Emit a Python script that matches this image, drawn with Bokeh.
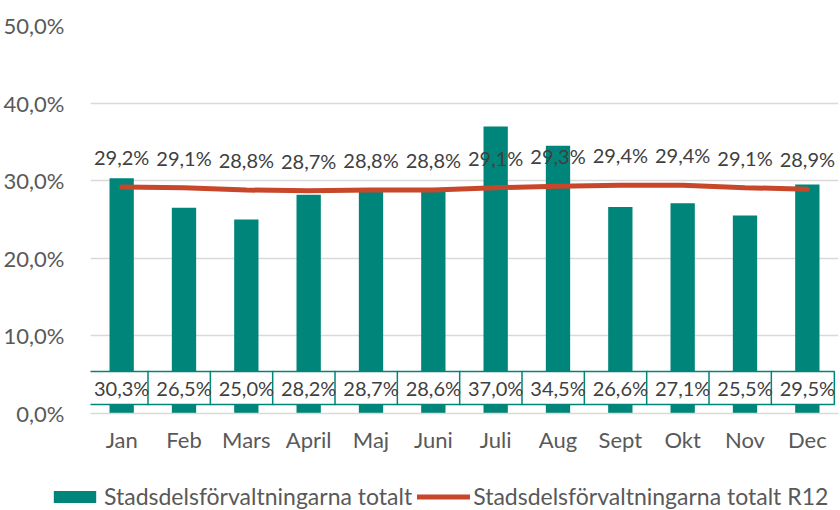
from bokeh.plotting import figure
from bokeh.layouts import column
from bokeh.models import (ColumnDataSource, FactorRange, Range1d, FixedTicker,
                          Legend, LegendItem)
from bokeh.transform import dodge
from bokeh.core.properties import value
from bokeh.embed import file_html
from bokeh.resources import INLINE

months = ["Jan", "Feb", "Mars", "April", "Maj", "Juni", "Juli", "Aug", "Sept", "Okt", "Nov", "Dec"]
totalt = [30.3, 26.5, 25.0, 28.2, 28.7, 28.6, 37.0, 34.5, 26.6, 27.1, 25.5, 29.5]
r12 = [29.2, 29.1, 28.8, 28.7, 28.8, 28.8, 29.1, 29.3, 29.4, 29.4, 29.1, 28.9]
y_ticks = [0, 10, 20, 30, 40, 50]
series_names = ["Stadsdelsförvaltningarna totalt", "Stadsdelsförvaltningarna totalt R12"]

def pct(v):
    return f"{v:.1f}".replace(".", ",") + "%"

TEAL = "#00857A"
RED = "#C8472B"
FONT = "Lato"
FS = "22px"
FS_DATA = "20px"

src = ColumnDataSource(dict(
    m=months, t=totalt, r=r12,
    tl=[pct(v) for v in totalt],
    rl=[pct(v) for v in r12],
    base=[3.3] * len(months),
))

p = figure(width=840, height=470, x_range=FactorRange(factors=months),
           y_range=Range1d(0, 50), output_backend="svg", toolbar_location=None,
           min_border_left=90, min_border_right=2, min_border_top=25,
           min_border_bottom=57)
p.frame_align = False
p.outline_line_color = None
p.background_fill_color = "white"

bars = p.vbar(x="m", top="t", width=0.39, source=src, fill_color=TEAL, line_color=None)
line = p.line(x="m", y="r", source=src, line_color=RED, line_width=5, line_cap="round")

p.text(x="m", y="r", text="rl", source=src, y_offset=-30, text_align="center",
       text_baseline="middle", text_font=value(FONT), text_font_size=FS_DATA,
       text_color="#404040")

p.rect(x=dodge("m", -0.072, range=p.x_range), y="base", width=63, height=33,
       width_units="screen", height_units="screen", source=src,
       fill_color="white", line_color=TEAL, line_width=1.5)
p.text(x="m", y="base", text="tl", source=src, text_align="center",
       text_baseline="middle", text_font=value(FONT), text_font_size=FS_DATA,
       text_color="#404040")

p.yaxis.ticker = FixedTicker(ticks=y_ticks)
p.yaxis.major_label_overrides = {v: pct(v) for v in y_ticks}
p.yaxis.axis_line_color = None
p.yaxis.major_tick_line_color = None
p.yaxis.minor_tick_line_color = None
p.yaxis.major_label_standoff = 20
p.yaxis.major_label_text_font = FONT
p.yaxis.major_label_text_font_size = FS
p.yaxis.major_label_text_color = "#595959"

p.xaxis.axis_line_color = "#D9D9D9"
p.xaxis.axis_line_width = 1.5
p.xaxis.major_tick_line_color = None
p.xaxis.minor_tick_line_color = None
p.xaxis.major_label_standoff = 6
p.xaxis.major_label_text_font = FONT
p.xaxis.major_label_text_font_size = FS
p.xaxis.major_label_text_color = "#595959"

p.xgrid.grid_line_color = None
p.ygrid.grid_line_color = "#D9D9D9"
p.ygrid.grid_line_width = 1.5

# legend strip below the chart (its glyphs use the same data, kept out of view)
pl = figure(width=840, height=40, output_backend="svg", toolbar_location=None,
            x_range=FactorRange(factors=months), y_range=Range1d(60, 70),
            x_axis_location=None, y_axis_location=None,
            min_border_left=0, min_border_right=0, min_border_top=0, min_border_bottom=0)
pl.frame_align = False
pl.outline_line_color = None
pl.xgrid.grid_line_color = None
pl.ygrid.grid_line_color = None
lb = pl.vbar(x="m", top="t", width=0.39, source=src, fill_color=TEAL, line_color=None)
ll = pl.line(x="m", y="r", source=src, line_color=RED, line_width=5, line_cap="round")

legend = Legend(items=[
    LegendItem(label=series_names[0], renderers=[lb]),
    LegendItem(label=series_names[1], renderers=[ll]),
], orientation="horizontal", location=(48, 0), padding=0, margin=0, spacing=5,
    label_standoff=3, glyph_width=53, glyph_height=15,
    label_text_font=FONT, label_text_font_size="23px", label_text_color="#595959",
    border_line_color=None, background_fill_alpha=0)
pl.add_layout(legend, "center")

open("out.html", "w").write(file_html(column(p, pl, spacing=0), INLINE))
